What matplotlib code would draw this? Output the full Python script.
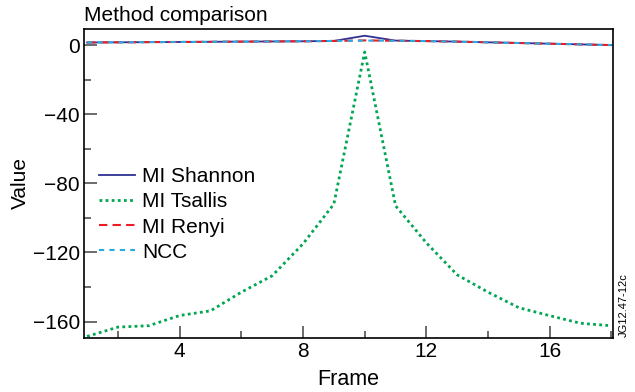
import numpy as np
import matplotlib.pyplot as plt
from matplotlib.ticker import MultipleLocator

plt.rcParams['font.family'] = ['Liberation Sans', 'DejaVu Sans']
plt.rcParams['axes.unicode_minus'] = True

# data
frames = list(range(1, 19))
mi_shannon = [1.5, 1.6, 1.7, 1.8, 1.9, 2.0, 2.1, 2.2, 2.4, 5.4, 2.6, 2.3, 2.0, 1.6, 1.2, 0.8, 0.4, 0.0]
mi_tsallis = [-168.6, -163.2, -162.4, -156.5, -153.8, -143.0, -133.5, -115.0, -92.0, -4.0,
              -93.0, -114.5, -133.0, -143.0, -152.0, -156.6, -161.0, -162.4]
mi_renyi = [1.5, 1.6, 1.7, 1.8, 1.9, 2.0, 2.1, 2.2, 2.4, 2.7, 2.5, 2.3, 2.0, 1.6, 1.2, 0.8, 0.4, 0.0]
ncc = [1.5, 1.6, 1.7, 1.8, 1.9, 2.0, 2.1, 2.2, 2.4, 2.6, 2.5, 2.3, 2.0, 1.6, 1.2, 0.8, 0.4, 0.0]

fig = plt.figure(figsize=(6.35, 3.92), dpi=100)
ax = fig.add_axes([0.1323, 0.1378, 0.8331, 0.7882])

ax.plot(frames, mi_shannon, color='#2e3192', lw=1.3, label='MI Shannon')
ax.plot(frames, mi_tsallis, color='#00a651', lw=2.0, ls=(0, (1, 1.2)), label='MI Tsallis')
ax.plot(frames, mi_renyi, color='#ed1c24', lw=1.5, ls=(0, (4, 2.5)), label='MI Renyi')
ax.plot(frames, ncc, color='#29abe2', lw=1.5, ls=(0, (2.5, 2.5)), label='NCC')

ax.set_xlim(0.9, 18.05)
ax.set_ylim(-169.5, 9.3)
ax.xaxis.set_major_locator(MultipleLocator(4))
ax.xaxis.set_minor_locator(MultipleLocator(2))
ax.yaxis.set_major_locator(MultipleLocator(40))
ax.yaxis.set_minor_locator(MultipleLocator(20))
ax.tick_params(which='both', direction='in', top=False, right=False,
               labelsize=15, color='#444444', width=1.1, pad=3)
ax.tick_params(which='major', length=9)
ax.tick_params(which='minor', length=5)
for s in ax.spines.values():
    s.set_linewidth(1.2)

ax.set_xlabel('Frame', fontsize=15.5, labelpad=6)
ax.set_ylabel('Value', fontsize=15, labelpad=2)
ax.set_title('Method comparison', fontsize=15, loc='left', pad=6)

leg = ax.legend(loc='center left', bbox_to_anchor=(0.0, 0.40), frameon=False,
                fontsize=15, handlelength=1.75, handletextpad=0.35, labelspacing=0.3,
                borderaxespad=0.3)

fig.text(0.983, 0.14, 'JG12.47-12c', rotation=90, fontsize=8, ha='center', va='bottom')

plt.savefig('out.png', dpi=100)
